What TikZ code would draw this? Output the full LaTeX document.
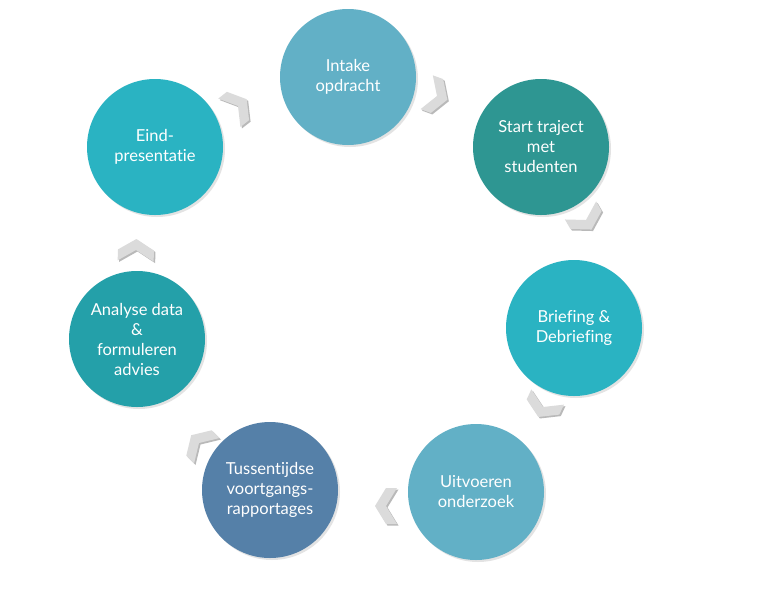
\documentclass[tikz,border=0pt]{standalone}
\usepackage{fontspec}
\setmainfont[Ligatures=NoCommon]{Lato}
\usetikzlibrary{shadows}
\definecolor{paleblue}{HTML}{62B0C6}
\definecolor{darkteal}{HTML}{2E9692}
\definecolor{brightteal}{HTML}{2AB3C2}
\definecolor{midteal}{HTML}{24A0A9}
\definecolor{slateblue}{HTML}{5580A8}
\tikzset{
	stage/.style={circle, minimum size=136pt, inner sep=0pt, text=white, align=center,
		font=\fontsize{16.5}{20}\selectfont,
		drop shadow={opacity=0.22, shadow xshift=2pt, shadow yshift=-2pt}},
}
% gray chevron at (x,y), pointing along the given angle
\newcommand{\chev}[3]{%
	\fill[gray!55, shift={(#1,#2)}, xshift=1.5pt, yshift=-1.5pt, rotate=#3] (-11,18) -- (0,18) -- (11,0) -- (0,-18) -- (-11,-18) -- (0,0) -- cycle;
	\fill[gray!28, shift={(#1,#2)}, rotate=#3] (-11,18) -- (0,18) -- (11,0) -- (0,-18) -- (-11,-18) -- (0,0) -- cycle;}
\begin{document}
\begin{tikzpicture}[x=1pt, y=-1pt]
	\useasboundingbox[fill=white] (0,0) rectangle (768,606);
	\node[stage, fill=paleblue] (intake) at (348,77) {Intake\\opdracht};
	\node[stage, fill=darkteal] (start) at (541,147) {Start traject\\met\\studenten};
	\node[stage, fill=brightteal] (briefing) at (574,328) {Briefing \&\\Debriefing};
	\node[stage, fill=paleblue] (uitvoeren) at (476,492) {Uitvoeren\\onderzoek};
	\node[stage, fill=slateblue] (tussen) at (270,490) {Tussentijdse\\voortgangs-\\rapportages};
	\node[stage, fill=midteal] (analyse) at (137,339) {Analyse data\\\&\\formuleren\\advies};
	\node[stage, fill=brightteal] (eind) at (155,147) {Eind-\\presentatie};
	\chev{238}{106}{38}
	\chev{437}{96}{-20}
	\chev{586}{220}{-60}
	\chev{543}{407}{-115}
	\chev{386}{506}{180}
	\chev{199}{443}{135}
	\chev{136}{250}{88}
\end{tikzpicture}
\end{document}
